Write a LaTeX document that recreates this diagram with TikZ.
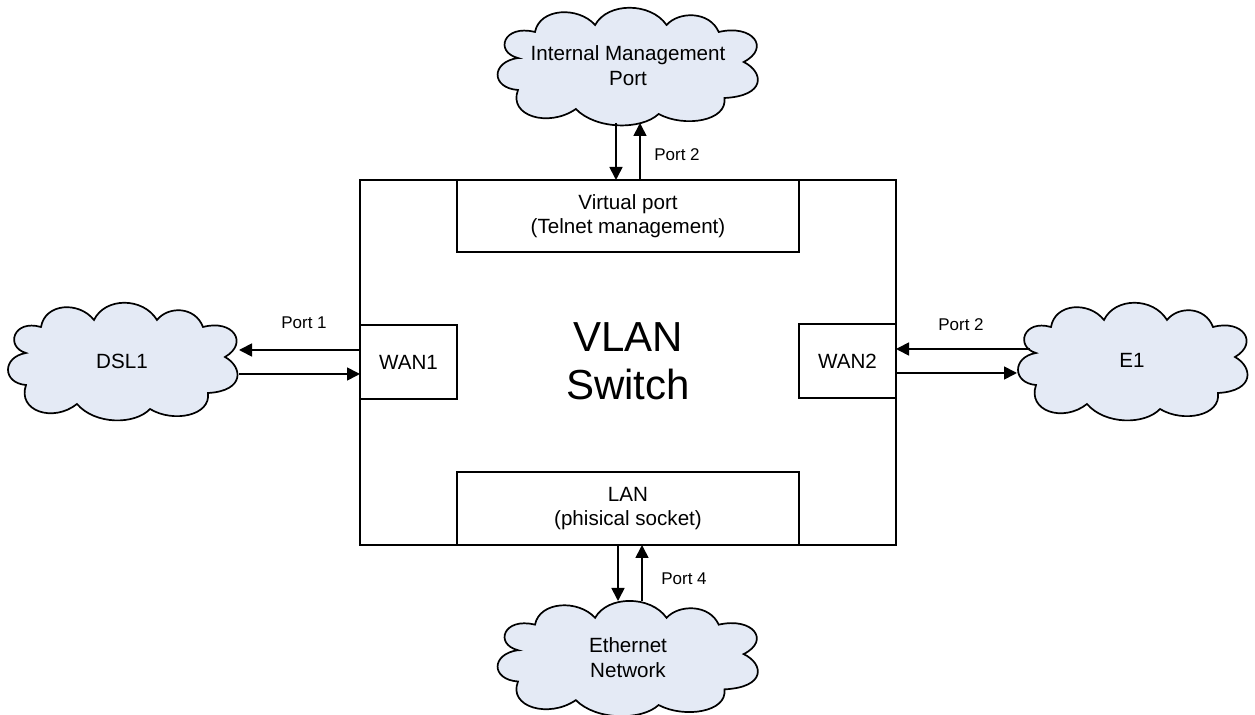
\documentclass[tikz,border=0pt]{standalone}
\usepackage{fontspec}
\setmainfont{Liberation Sans}
\usetikzlibrary{arrows.meta}
\definecolor{cloudblue}{HTML}{E4EAF5}
\tikzset{
    box/.style={draw, line width=0.85pt, inner sep=0pt, outer sep=0pt, align=center, font=\fontsize{10.3}{12.3}\selectfont},
    link/.style={line width=0.85pt, -{Triangle[length=6.5pt,width=6.5pt]}},
    portlabel/.style={font=\fontsize{8.5}{10}\selectfont},
    cloudlabel/.style={align=center, font=\fontsize{10.3}{12.5}\selectfont},
    pics/netcloud/.style={code={
        \draw[line width=0.85pt, fill=cloudblue] (-97,-8)
            .. controls (-118,-14) and (-110,-42) .. (-82,-34)
            .. controls (-78,-58) and (-44,-60) .. (-29,-41)
            .. controls (-18,-64) and (20,-64) .. (34,-41)
            .. controls (45,-55) and (72,-55) .. (80,-34)
            .. controls (110,-42) and (126,-18) .. (102,-4)
            .. controls (120,6) and (122,30) .. (85,32)
            .. controls (88,55) and (50,62) .. (27,48)
            .. controls (12,64) and (-28,64) .. (-46,43)
            .. controls (-70,62) and (-106,50) .. (-97,24)
            .. controls (-121,22) and (-121,-4) .. cycle;
    }}
}
\begin{document}
\begin{tikzpicture}[x=0.5pt,y=-0.5pt]
    \useasboundingbox (0,0) rectangle (1255,715);
    % clouds
    \pic at (123,361) {netcloud};
    \pic at (1133,361) {netcloud};
    \pic[xscale=1.134] at (628,66) {netcloud};
    \pic[xscale=1.134,yscale=0.98] at (628,658) {netcloud};
    \node[cloudlabel] (dsl) at (122,361) {DSL1};
    \node[cloudlabel] (eone) at (1132,360) {E1};
    \node[cloudlabel] (mgmt) at (628,66) {Internal Management\\Port};
    \node[cloudlabel] (ether) at (628,658) {Ethernet\\Network};
    % switch and its ports
    \node[box, minimum width=268pt, minimum height=182.5pt] (switch) at (628,362.5) {};
    \node[box, minimum width=171pt, minimum height=36pt] (virtual) at (628,216) {Virtual port\\(Telnet management)};
    \node[box, minimum width=171pt, minimum height=36.5pt] (lan) at (628,508.5) {LAN\\(phisical socket)};
    \node[box, minimum width=48.5pt, minimum height=37pt] (wanone) at (408.5,362) {WAN1};
    \node[box, minimum width=48.5pt, minimum height=37pt] (wantwo) at (847.5,361) {WAN2};
    \node[align=center, font=\fontsize{21}{24}\selectfont] (vlan) at (628,361) {VLAN\\Switch};
    % free ends on the clouds
    \coordinate (dslin) at (239,350);
    \coordinate (dslout) at (239,374);
    \coordinate (eout) at (1030,349);
    \coordinate (ein) at (1017,373);
    \coordinate (mgmtout) at (616,123);
    \coordinate (mgmtin) at (640,123);
    \coordinate (etherin) at (618,601);
    \coordinate (etherout) at (642,601);
    % connectors
    \draw[link] (wanone.west |- dslin) -- (dslin);
    \draw[link] (dslout) -- (wanone.west |- dslout);
    \draw[link] (eout) -- (wantwo.east |- eout);
    \draw[link] (wantwo.east |- ein) -- (ein);
    \draw[link] (mgmtout) -- (virtual.north -| mgmtout);
    \draw[link] (virtual.north -| mgmtin) -- (mgmtin);
    \draw[link] (lan.south -| etherin) -- (etherin);
    \draw[link] (etherout) -- (lan.south -| etherout);
    % port labels
    \node[portlabel] (portone) at (304,323) {Port 1};
    \node[portlabel] (porttwo) at (961,325) {Port 2};
    \node[portlabel] (portmgmt) at (677,155) {Port 2};
    \node[portlabel] (portfour) at (684,579) {Port 4};
\end{tikzpicture}
\end{document}
